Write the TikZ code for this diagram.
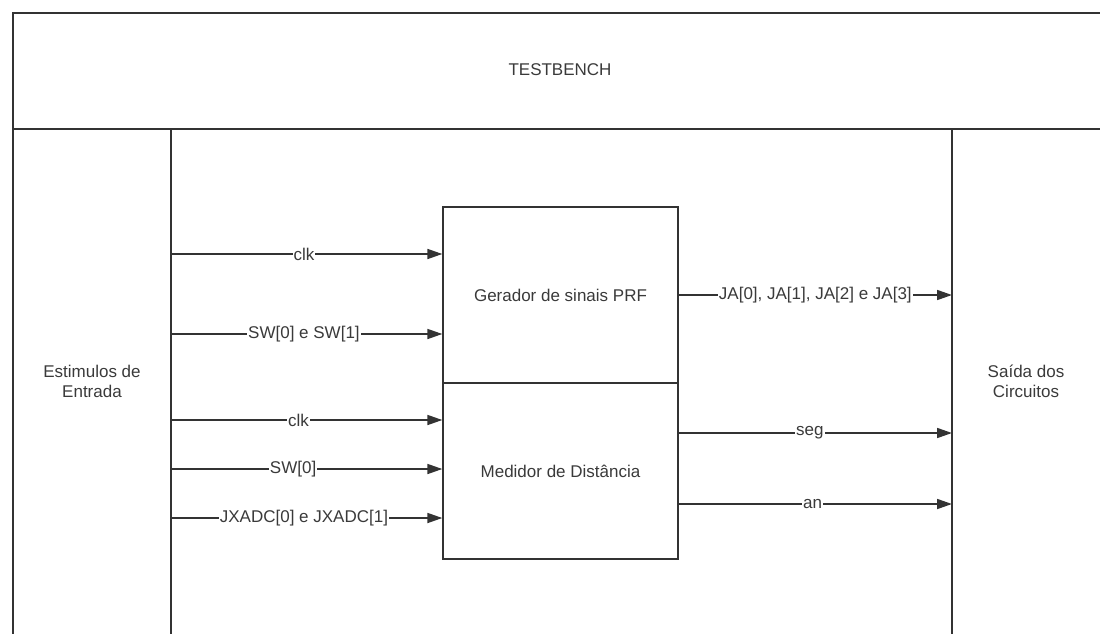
\documentclass[tikz,border=0pt]{standalone}
\usepackage{fontspec}
\setmainfont{Liberation Sans}
\usetikzlibrary{arrows.meta}
\definecolor{ln}{HTML}{333333}
\definecolor{tx}{HTML}{3A3A3A}
\tikzset{
  frame/.style={draw=ln, line width=1.7pt},
  blk/.style={draw=ln, line width=1.3pt, minimum width=235pt, minimum height=176pt, inner sep=0pt, font=\fontsize{17}{20}\selectfont, text=tx},
  sig/.style={draw=ln, line width=1.7pt, -{Triangle[length=15pt,width=10pt]}},
  lbl/.style={fill=white, inner sep=1pt, font=\fontsize{17}{20}\selectfont, text=tx},
  txt/.style={font=\fontsize{17}{20}\selectfont, text=tx, align=center}
}
\begin{document}
\begin{tikzpicture}[x=1pt,y=-1pt]
\useasboundingbox (0,0) rectangle (1100,634);
% frame
\draw[frame] (1100,13) -- (13,13) -- (13,634);
\draw[frame] (13,129) -- (1100,129);
\draw[frame] (171,129) -- (171,634);
\draw[frame] (952,129) -- (952,634);
\node[txt] (tb) at (560,70) {TESTBENCH};
\node[txt] (est) at (92,381) {Estimulos de\\Entrada};
\node[txt] (sai) at (1026,381) {Saída dos\\Circuitos};
% blocks
\node[blk] (gen) at (560.5,295) {Gerador de sinais PRF};
\node[blk] (med) at (560.5,471) {Medidor de Distância};
% input coordinates
\coordinate (i1) at (171,254);
\coordinate (i2) at (171,334);
\coordinate (i3) at (171,420);
\coordinate (i4) at (171,469);
\coordinate (i5) at (171,518);
\coordinate (o1) at (952,295);
\coordinate (o2) at (952,433);
\coordinate (o3) at (952,504);
\draw[sig] (i1) -- (i1 -| gen.west) node[lbl, pos=0.49] {clk};
\draw[sig] (i2) -- (i2 -| gen.west) node[lbl, pos=0.49] {SW[0] e SW[1]};
\draw[sig] (i3) -- (i3 -| med.west) node[lbl, pos=0.47] {clk};
\draw[sig] (i4) -- (i4 -| med.west) node[lbl, pos=0.45] {SW[0]};
\draw[sig] (i5) -- (i5 -| med.west) node[lbl, pos=0.49] {JXADC[0] e JXADC[1]};
\draw[sig] (o1 -| gen.east) -- (o1) node[lbl, pos=0.5] {JA[0], JA[1], JA[2] e JA[3]};
\draw[sig] (o2 -| med.east) -- (o2) node[lbl, pos=0.48] {seg};
\draw[sig] (o3 -| med.east) -- (o3) node[lbl, pos=0.49] {an};
\end{tikzpicture}
\end{document}
